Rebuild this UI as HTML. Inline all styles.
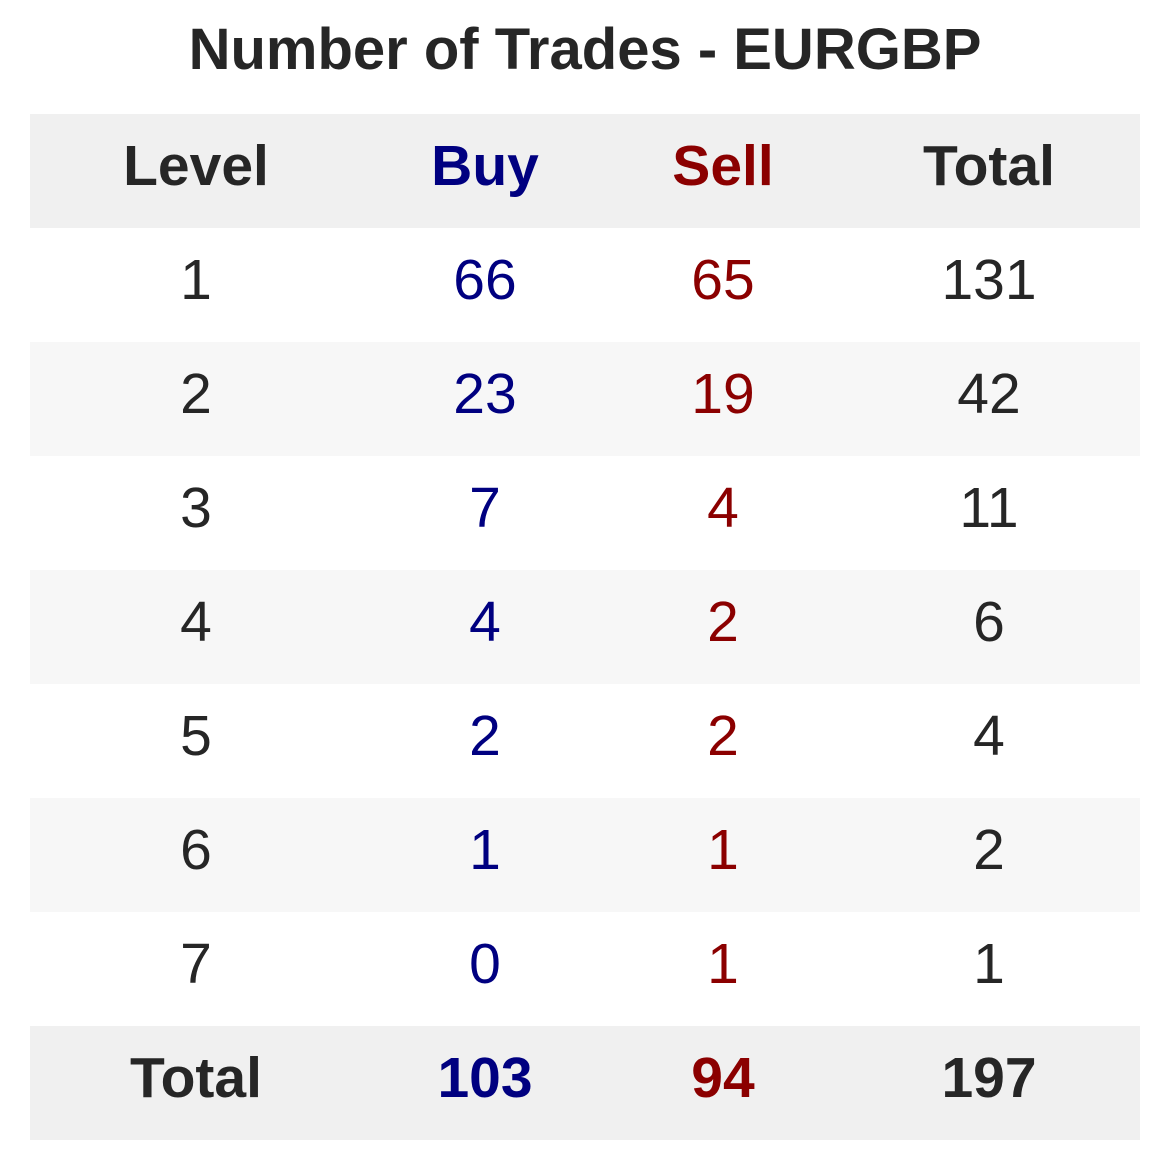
<!DOCTYPE html>
<html><head><meta charset="utf-8"><style>
body{margin:0;width:1170px;height:1170px;background:#fff;font-family:"Liberation Sans",Arial,sans-serif;color:#262626;position:relative;overflow:hidden}
.t{position:absolute;left:0;width:1170px;text-align:center;top:20px;font-size:58px;font-weight:bold;line-height:60px}
.row{position:absolute;left:30px;width:1110px;height:114px}
.c{position:absolute;top:-5px;height:114px;line-height:114px;font-size:57px;transform:translateX(-50%);white-space:nowrap}
.b{font-weight:bold}
</style></head><body>
<div class="t">Number of Trades - EURGBP</div>
<div id="tbl"></div>
<script>
const levels=["1","2","3","4","5","6","7"];
const buy=[66,23,7,4,2,1,0];
const sell=[65,19,4,2,2,1,1];
const headers=["Level","Buy","Sell","Total"];
const cx=[196,485,723,989];
const colors=["#262626","#000080","#8b0000","#262626"];
const tbl=document.getElementById('tbl');
function addRow(i,vals,bg,bold,name){
  const r=document.createElement('div');
  
  
  r.className='row';r.style.top=(114+i*114)+'px';r.style.background=bg;
  vals.forEach((v,j)=>{
    const c=document.createElement('div');
    
    
    c.className='c'+(bold?' b':'');c.style.left=(cx[j]-30)+'px';c.style.color=colors[j];
    c.textContent=v;r.appendChild(c);
  });
  tbl.appendChild(r);
}
addRow(0,headers,'#f0f0f0',true,'header-row');
levels.forEach((l,i)=>addRow(i+1,[l,buy[i],sell[i],buy[i]+sell[i]],i%2?'#f7f7f7':'#fff',false,'level-row-'+l));
const sb=buy.reduce((a,b)=>a+b,0),ss=sell.reduce((a,b)=>a+b,0);
addRow(8,['Total',sb,ss,sb+ss],'#f0f0f0',true,'total-row');
</script>
</body></html>
